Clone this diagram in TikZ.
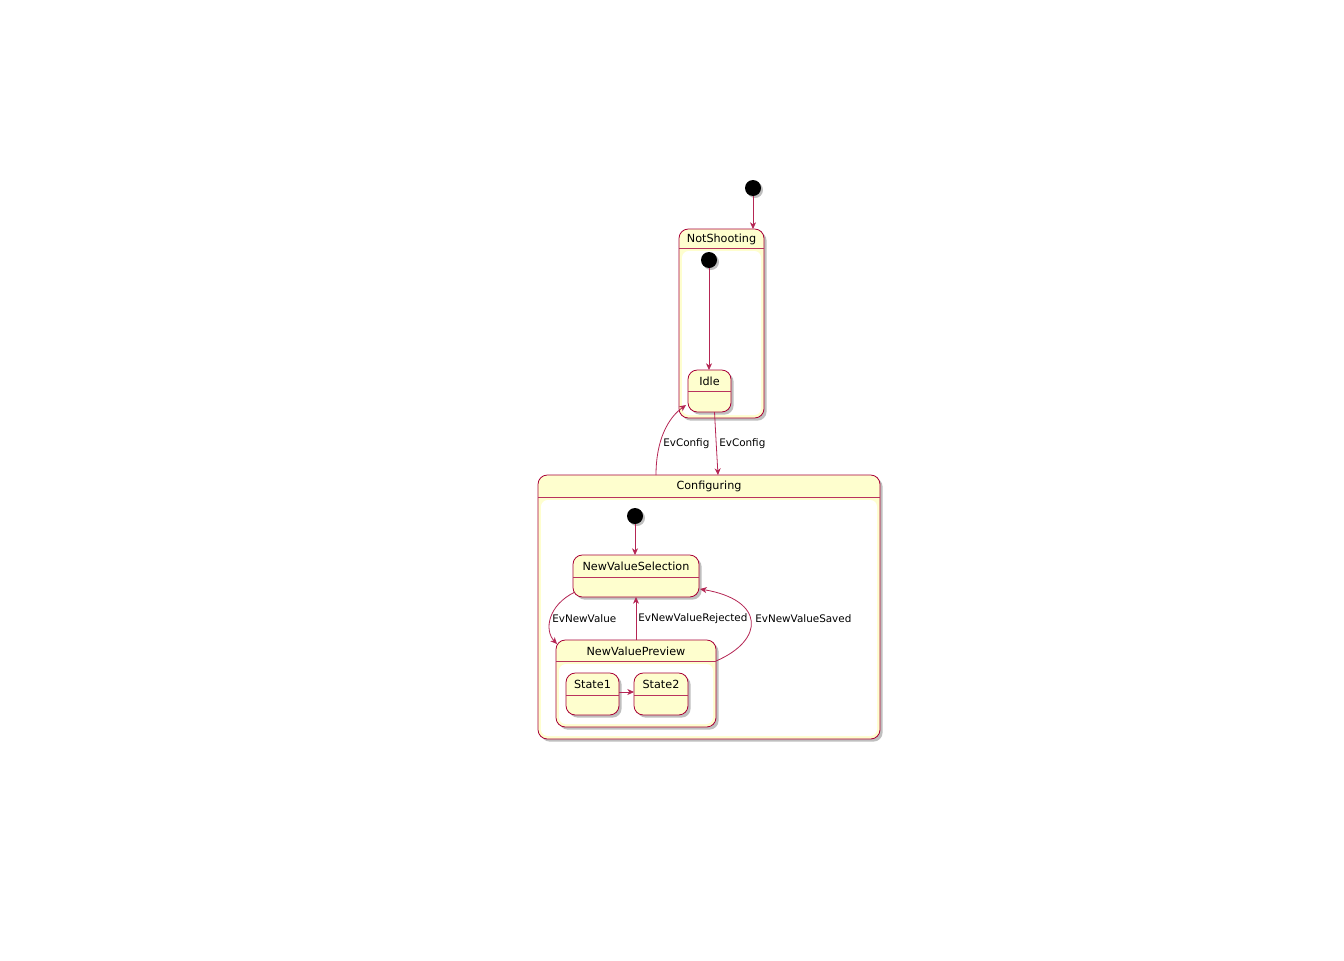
\documentclass[tikz,border=0pt]{standalone}
\usepackage{fontspec}
\setmainfont{DejaVu Sans}
\usepackage{tikz}
\usetikzlibrary{positioning}
\usetikzlibrary{calc,fit,shadows,arrows.meta}
\definecolor{umlred}{HTML}{A80036}
\definecolor{umlfill}{HTML}{FEFECE}

\begin{document}
\begin{tikzpicture}[x=0.75pt,y=-0.75pt,
    box/.style={draw=umlred, fill=umlfill, line width=0.6pt, rounded corners=7pt,
        inner sep=0pt, outer sep=0pt,
        drop shadow={shadow xshift=2pt, shadow yshift=-2pt, opacity=0.25, fill=black}},
    inside/.style={fill=white, rounded corners=5pt, inner sep=0pt, outer sep=0pt},
    start/.style={circle, fill=black, minimum size=12pt, inner sep=0pt,
        drop shadow={shadow xshift=1.5pt, shadow yshift=-1.5pt, opacity=0.25, fill=black}},
    title/.style={font=\fontsize{8.4}{10}\selectfont, inner sep=0pt},
    lbl/.style={font=\fontsize{7.8}{10}\selectfont, inner sep=0pt, anchor=west},
    rule/.style={draw=umlred!80, line width=0.6pt},
    arr/.style={draw=umlred!85, line width=0.6pt, -{Stealth[length=5pt,width=4.5pt,inset=1.5pt]}}]

    \useasboundingbox (0,0) rectangle (1344,960);

	% top level: start and NotShooting
	\node[start] (init) at (753,188) {};
	\node[box, fit={(679,229) (764,418)}] (notshooting) {};
	\node[inside, fit={(682,251) (761,415)}] (nsarea) {};
	\draw[rule] ($(notshooting.north west)+(0,19)$) -- ($(notshooting.north east)+(0,19)$);
	\node[title] (nstitle) at ($(notshooting.north)+(0,10)$) {NotShooting};

	\node[start] (nsinit) at (709,260) {};
	\node[box, fit={(688,370) (731,412)}] (idle) {};
	\draw[rule] ($(idle.north west)+(0,21)$) -- ($(idle.north east)+(0,21)$);
	\node[title] (idletitle) at ($(idle.north)+(0,11)$) {Idle};

	% Configuring with its sub-states
	\node[box, fit={(538,475) (880,739)}] (configuring) {};
	\node[inside, fit={(541,500) (877,736)}] (cfgarea) {};
	\draw[rule] ($(configuring.north west)+(0,22)$) -- ($(configuring.north east)+(0,22)$);
	\node[title] (cfgtitle) at ($(configuring.north)+(0,11)$) {Configuring};

	\node[start] (cfginit) at (635,516) {};
	\node[box, fit={(573,555) (699,597)}] (nvsel) {};
	\draw[rule] ($(nvsel.north west)+(0,22)$) -- ($(nvsel.north east)+(0,22)$);
	\node[title] (nvseltitle) at ($(nvsel.north)+(0,11)$) {NewValueSelection};

	\node[box, fit={(556,640) (716,727)}] (nvprev) {};
	\node[inside, fit={(559,664) (713,724)}] (nvparea) {};
	\draw[rule] ($(nvprev.north west)+(0,21)$) -- ($(nvprev.north east)+(0,21)$);
	\node[title] (nvprevtitle) at ($(nvprev.north)+(0,11)$) {NewValuePreview};

	\node[box, fit={(566,673) (619,715)}] (stateone) {};
	\draw[rule] ($(stateone.north west)+(0,22)$) -- ($(stateone.north east)+(0,22)$);
	\node[title] (stateonetitle) at ($(stateone.north)+(0,11)$) {State1};

	\node[box, fit={(634,673) (688,715)}] (statetwo) {};
	\draw[rule] ($(statetwo.north west)+(0,22)$) -- ($(statetwo.north east)+(0,22)$);
	\node[title] (statetwotitle) at ($(statetwo.north)+(0,11)$) {State2};

	% transitions
	\draw[arr] (init) -- (init |- notshooting.north);
	\draw[arr] (nsinit) -- (nsinit |- idle.north);
	\draw[arr] ($(configuring.north)+(-53,0)$) .. controls (656,440) and (668,418) .. ($(idle.south west)+(-2,-7)$);
	\node[lbl] (evconfigup) at (663,444) {EvConfig};
	\draw[arr] ($(idle.south)+(5,0)$) .. controls (716,440) .. ($(configuring.north)+(9,0)$);
	\node[lbl] (evconfigdown) at (719,444) {EvConfig};

	\draw[arr] (cfginit) -- (cfginit |- nvsel.north);
	\draw[arr] ($(nvsel.south west)+(2,-5)$) .. controls (548,605) and (544,630) .. ($(nvprev.north west)+(1,4)$);
	\node[lbl] (evnewvalue) at (552,619) {EvNewValue};
	\draw[arr] (nvprev.north) -- (nvsel.south);
	\node[lbl] (evrejected) at (638,619) {EvNewValueRejected};
	\draw[arr] ($(nvprev.north east)+(0,21)$) .. controls (765,640) and (765,600) .. ($(nvsel.south east)+(1,-8)$);
	\node[lbl] (evsaved) at (755,619) {EvNewValueSaved};
	\draw[arr] ($(stateone.north east)+(0,19)$) -- ($(statetwo.north west)+(0,19)$);

\end{tikzpicture}
\end{document}
